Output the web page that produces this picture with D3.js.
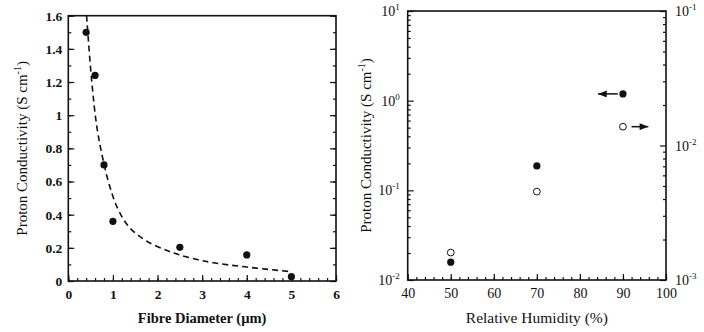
<!DOCTYPE html>
<html>
<head>
<meta charset="utf-8">
<script src="https://cdn.jsdelivr.net/npm/d3@7"></script>
<style>
  body { margin: 0; background: #fff; }
  svg { display: block; }
  svg text { fill: #111; }
</style>
</head>
<body>
<svg id="chart" width="704" height="332"></svg>
<script>
// ---- data ----
// left panel: conductivity vs fibre diameter
var diameter = [0.4, 0.6, 0.8, 1.0, 2.5, 4.0, 5.0]
var conductivity = [1.50, 1.24, 0.70, 0.36, 0.203, 0.157, 0.026]
// dashed fit line
var fitX = [0.41, 0.52, 0.64, 0.78, 0.93, 1.12, 1.38, 1.76, 2.2, 2.5, 2.91, 3.25, 4.0, 5.0]
var fitY = [1.6, 1.22, 0.93, 0.73, 0.57, 0.43, 0.32, 0.24, 0.185, 0.157, 0.128, 0.11, 0.084, 0.056]
var xTicksA = [0, 1, 2, 3, 4, 5, 6]
var yTicksA = [0, 0.2, 0.4, 0.6, 0.8, 1, 1.2, 1.4, 1.6]

// right panel: conductivity vs relative humidity
var humidity = [50, 70, 90]
var condFilled = [0.0158, 0.187, 1.19]     // left axis
var condOpen = [0.0016, 0.00454, 0.0138]   // right axis
var xTicksB = [40, 50, 60, 70, 80, 90, 100]
var yLeftExp = [-2, -1, 0, 1]
var yRightExp = [-3, -2, -1]
// arrows pointing to the axis each series uses
var arrows = [
  {from: 88.8, to: 84.2, y: 1.19, side: "left"},
  {from: 92.0, to: 95.9, y: 0.0138, side: "right"}
]

var FONT = "Liberation Serif"
var svg = d3.select("#chart")

svg.append("defs").append("marker")
  .attr("id", "head")
  .attr("viewBox", "0 0 10 8")
  .attr("refX", 10).attr("refY", 4)
  .attr("markerWidth", 9).attr("markerHeight", 7)
  .attr("markerUnits", "userSpaceOnUse")
  .attr("orient", "auto")
  .append("path").attr("d", "M0,0L10,4L0,8Z").attr("fill", "#111")

function styleAxis(g){
  g.attr("font-family", FONT)
  g.select(".domain").remove()
  g.selectAll(".tick line").attr("stroke", "#111").attr("stroke-width", 1.2)
}

function yTitle(x, y, weight){
  var t = svg.append("text")
    .attr("transform", "translate(" + x + "," + y + ")rotate(-90)")
    .attr("text-anchor", "middle")
    .attr("font-family", FONT)
    .style("font-size", "15px")
    .style("font-weight", weight)
    .text("Proton Conductivity (S cm")
  t.append("tspan").attr("dy", -6).style("font-size", "10px").text("-1")
  t.append("tspan").attr("dy", 6).text(")")
}

// ================= left panel =================
var xA = d3.scaleLinear().domain([0, 6]).range([68.3, 336])
var yA = d3.scaleLinear().domain([0, 1.6]).range([281, 15.7])

var gA = svg.append("g")

gA.append("g").attr("transform", "translate(0," + yA(0) + ")")
  .call(d3.axisBottom(xA).tickValues(d3.range(0, 6.01, 0.2)).tickSize(-3).tickFormat(""))
  .call(styleAxis)
gA.append("g").attr("transform", "translate(0," + yA(0) + ")")
  .call(d3.axisBottom(xA).tickValues(xTicksA).tickSize(-6).tickPadding(8).tickFormat(d3.format("d")))
  .call(styleAxis)
  .selectAll("text").style("font-size", "13.5px").style("font-weight", "bold").attr("fill", "#111")

;[xA(0), xA(6)].forEach(function(px, i){
  var minor = i == 0 ? d3.axisLeft(yA) : d3.axisRight(yA)
  var major = i == 0 ? d3.axisLeft(yA) : d3.axisRight(yA)
  gA.append("g").attr("transform", "translate(" + px + ",0)")
    .call(minor.tickValues(d3.range(0, 1.61, 0.1)).tickSize(-3).tickFormat(""))
    .call(styleAxis)
  var g = gA.append("g").attr("transform", "translate(" + px + ",0)")
    .call(major.tickValues(yTicksA).tickSize(-6).tickPadding(6)
      .tickFormat(i == 0 ? d3.format("") : ""))
    .call(styleAxis)
  g.selectAll("text").style("font-size", "13.5px").style("font-weight", "bold").attr("fill", "#111")
})

gA.append("rect")
  .attr("x", xA(0)).attr("y", yA(1.6))
  .attr("width", xA(6) - xA(0)).attr("height", yA(0) - yA(1.6))
  .attr("fill", "none").attr("stroke", "#111").attr("stroke-width", 1.6)

var fitPts = fitX.map(function(d, i){ return [d, fitY[i]] })
gA.append("path")
  .datum(fitPts)
  .attr("d", d3.line().x(d => xA(d[0])).y(d => yA(d[1])).curve(d3.curveCatmullRom.alpha(0.5)))
  .attr("fill", "none").attr("stroke", "#111").attr("stroke-width", 1.6)
  .attr("stroke-dasharray", "6,4")

gA.selectAll(".dotA")
  .data(diameter)
  .enter()
  .append("circle")
  .attr("cx", d => xA(d))
  .attr("cy", (d, i) => yA(conductivity[i]))
  .attr("r", 3.6)
  .attr("fill", "#111")

svg.append("text")
  .attr("x", xA(3)).attr("y", 323)
  .attr("text-anchor", "middle")
  .attr("font-family", FONT)
  .style("font-size", "14.5px").style("font-weight", "bold")
  .text("Fibre Diameter (\u00b5m)")
yTitle(27, yA(0.8), "normal")

// ================= right panel =================
var xB = d3.scaleLinear().domain([40, 100]).range([407.7, 666])
var yL = d3.scaleLog().domain([0.01, 10]).range([280, 11])
var yR = d3.scaleLog().domain([0.001, 0.1]).range([280, 11])

var gB = svg.append("g")

gB.append("g").attr("transform", "translate(0," + yL(0.01) + ")")
  .call(d3.axisBottom(xB).tickValues(d3.range(40, 100.1, 2)).tickSize(-3).tickFormat(""))
  .call(styleAxis)
gB.append("g").attr("transform", "translate(0," + yL(0.01) + ")")
  .call(d3.axisBottom(xB).tickValues(xTicksB).tickSize(-6).tickPadding(8).tickFormat(d3.format("d")))
  .call(styleAxis)
  .selectAll("text").style("font-size", "14px").attr("fill", "#111")

function minorLog(lo, hi){
  var out = []
  for (var e = lo; e < hi; e++)
    for (var m = 2; m < 10; m++) out.push(m * Math.pow(10, e))
  return out
}

gB.append("g").attr("transform", "translate(" + xB(40) + ",0)")
  .call(d3.axisLeft(yL).tickValues(minorLog(-2, 1)).tickSize(-3).tickFormat(""))
  .call(styleAxis)
gB.append("g").attr("transform", "translate(" + xB(40) + ",0)")
  .call(d3.axisLeft(yL).tickValues(yLeftExp.map(e => Math.pow(10, e))).tickSize(-6).tickFormat(""))
  .call(styleAxis)
gB.append("g").attr("transform", "translate(" + xB(100) + ",0)")
  .call(d3.axisRight(yR).tickValues(minorLog(-3, -1)).tickSize(-3).tickFormat(""))
  .call(styleAxis)
gB.append("g").attr("transform", "translate(" + xB(100) + ",0)")
  .call(d3.axisRight(yR).tickValues(yRightExp.map(e => Math.pow(10, e))).tickSize(-6).tickFormat(""))
  .call(styleAxis)

// power-of-ten labels
yLeftExp.forEach(function(e){
  var t = gB.append("text")
    .attr("x", xB(40) - 8).attr("y", yL(Math.pow(10, e)) + 5)
    .attr("text-anchor", "end")
    .attr("font-family", FONT)
    .style("font-size", "14px")
  t.append("tspan").text("10")
  t.append("tspan").attr("dy", -6).style("font-size", "9px").text(e)
})
yRightExp.forEach(function(e){
  var t = gB.append("text")
    .attr("x", xB(100) + 9).attr("y", yR(Math.pow(10, e)) + 5)
    .attr("text-anchor", "start")
    .attr("font-family", FONT)
    .style("font-size", "14px")
  t.append("tspan").text("10")
  t.append("tspan").attr("dy", -6).style("font-size", "9px").text(e)
})

gB.append("rect")
  .attr("x", xB(40)).attr("y", yL(10))
  .attr("width", xB(100) - xB(40)).attr("height", yL(0.01) - yL(10))
  .attr("fill", "none").attr("stroke", "#111").attr("stroke-width", 1.6)

gB.selectAll(".dotF")
  .data(humidity)
  .enter()
  .append("circle")
  .attr("cx", d => xB(d))
  .attr("cy", (d, i) => yL(condFilled[i]))
  .attr("r", 3.6)
  .attr("fill", "#111")

gB.selectAll(".dotO")
  .data(humidity)
  .enter()
  .append("circle")
  .attr("cx", d => xB(d))
  .attr("cy", (d, i) => yR(condOpen[i]))
  .attr("r", 3.4)
  .attr("fill", "#fff")
  .attr("stroke", "#111")
  .attr("stroke-width", 1)

gB.selectAll(".arrow")
  .data(arrows)
  .enter()
  .append("line")
  .attr("x1", d => xB(d.from))
  .attr("x2", d => xB(d.to))
  .attr("y1", d => (d.side == "left" ? yL : yR)(d.y))
  .attr("y2", d => (d.side == "left" ? yL : yR)(d.y))
  .attr("stroke", "#111").attr("stroke-width", 1.5)
  .attr("marker-end", "url(#head)")

svg.append("text")
  .attr("x", xB(70)).attr("y", 323)
  .attr("text-anchor", "middle")
  .attr("font-family", FONT)
  .style("font-size", "15.5px")
  .text("Relative Humidity (%)")
yTitle(371, yL(Math.sqrt(0.1)), "normal")
</script>
</body>
</html>
